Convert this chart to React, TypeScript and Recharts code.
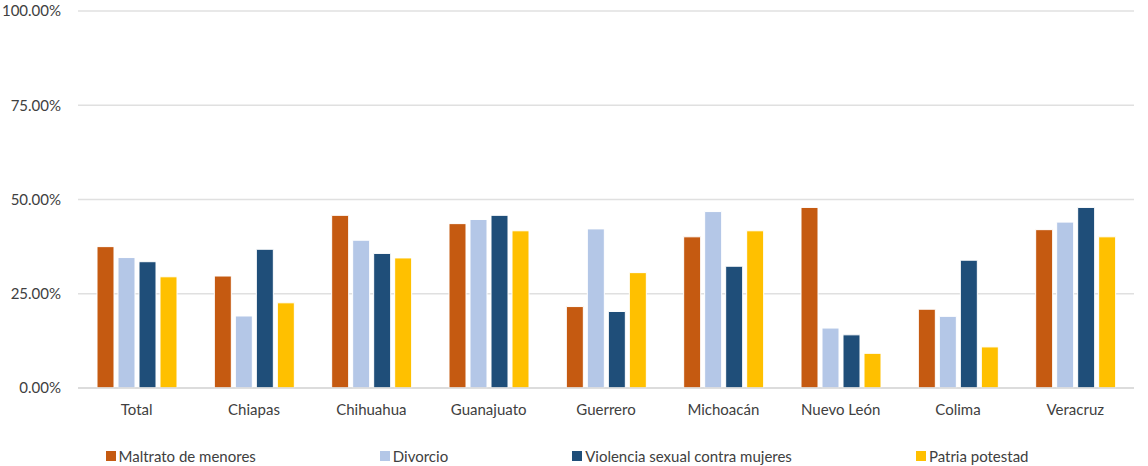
import React from "react";
import { BarChart, Bar, XAxis, YAxis, CartesianGrid, Legend } from "recharts";

const estados = ["Total", "Chiapas", "Chihuahua", "Guanajuato", "Guerrero", "Michoacán", "Nuevo León", "Colima", "Veracruz"];
const maltrato = [37.5, 29.7, 45.8, 43.6, 21.6, 40.1, 47.9, 20.9, 42.0];
const divorcio = [34.6, 19.1, 39.2, 44.7, 42.2, 46.8, 15.9, 19.0, 44.0];
const violencia = [33.5, 36.8, 35.7, 45.8, 20.3, 32.3, 14.1, 33.9, 47.9];
const patria = [29.5, 22.6, 34.5, 41.7, 30.6, 41.7, 9.2, 10.9, 40.1];
const yTicks = [0, 25, 50, 75, 100];

const series = [
  { key: "maltrato", name: "Maltrato de menores", color: "#C55A11" },
  { key: "divorcio", name: "Divorcio", color: "#B4C7E7" },
  { key: "violencia", name: "Violencia sexual contra mujeres", color: "#1F4E79" },
  { key: "patria", name: "Patria potestad", color: "#FFC000" },
];

const data = estados.map((name, i) => ({
  name,
  maltrato: maltrato[i],
  divorcio: divorcio[i],
  violencia: violencia[i],
  patria: patria[i],
}));

const FONT = "Lato, 'Open Sans', sans-serif";

function LegendContent() {
  return (
    <div style={{ display: "flex", justifyContent: "center", alignItems: "center", height: "100%", paddingTop: 9, boxSizing: "border-box", gap: 124, fontFamily: FONT, fontSize: 15, color: "#404040" }}>
      {series.map((s) => (
        <div key={s.key} style={{ display: "flex", alignItems: "center" }}>
          <span style={{ width: 10, height: 10, background: s.color, display: "inline-block", marginRight: 3 }} />
          <span>{s.name}</span>
        </div>
      ))}
    </div>
  );
}

export default function App() {
  return (
    <div style={{ position: "absolute", left: 0, top: 0, width: 1148, height: 466, background: "#fff" }}>
      <BarChart width={1148} height={466} data={data} margin={{ top: 11, right: 14, left: 0, bottom: 8 }} barSize={17} barGap={4}>
        <CartesianGrid vertical={false} stroke="#e0e0e0" strokeWidth={1.5} />
        <XAxis
          dataKey="name"
          tickLine={false}
          tickSize={0}
          tickMargin={16}
          height={40}
          axisLine={{ stroke: "#d9d9d9", strokeWidth: 1.5 }}
          tick={{ fill: "#404040", fontSize: 15, fontFamily: FONT }}
          interval={0}
        />
        <YAxis
          domain={[0, 100]}
          ticks={yTicks}
          width={78}
          axisLine={false}
          tickLine={false}
          tickSize={0}
          tickMargin={17}
          tickFormatter={(v: number) => `${v.toFixed(2)}%`}
          tick={{ fill: "#404040", fontSize: 15, fontFamily: FONT }}
        />
        <Legend verticalAlign="bottom" content={<LegendContent />} wrapperStyle={{ height: 30, bottom: 0 }} />
        {series.map((s) => (
          <Bar key={s.key} dataKey={s.key} name={s.name} fill={s.color} stroke="#ffffff" strokeWidth={1} isAnimationActive={false} />
        ))}
      </BarChart>
    </div>
  );
}
